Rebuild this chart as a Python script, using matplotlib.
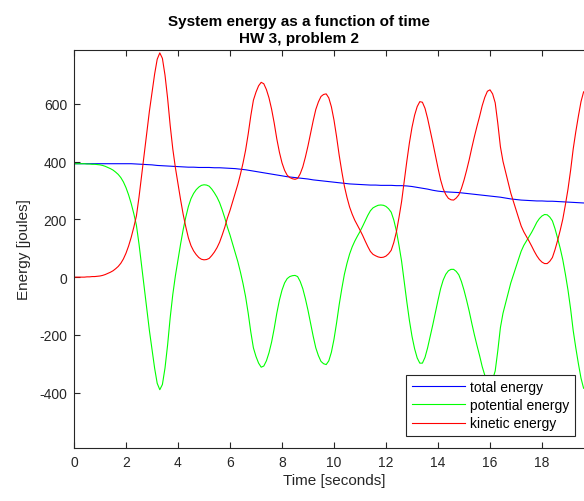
import matplotlib
matplotlib.use("Agg")
import matplotlib.pyplot as plt

plt.rcParams["font.family"] = ["Liberation Sans", "DejaVu Sans"]
plt.rcParams["axes.unicode_minus"] = False

# total energy, sampled every 0.2 s
time_total = [round(0.2 * i, 1) for i in range(99)]
total_energy = [
    393, 393, 393, 393, 393, 393, 393, 393, 393, 393,
    393, 393, 392, 391, 390, 389, 387, 386, 385, 384,
    383, 382, 381, 381, 380, 380, 380, 379, 379, 378,
    377, 376, 374, 372, 369, 366, 363, 360, 357, 354,
    351, 348, 346, 344, 342, 340, 337, 335, 333, 331,
    329, 327, 325, 323, 322, 321, 320, 319, 319, 318,
    318, 318, 317, 317, 316, 314, 311, 308, 305, 301,
    298, 296, 295, 294, 293, 291, 289, 287, 285, 283,
    281, 279, 277, 274, 271, 269, 267, 266, 265, 264,
    264, 263, 263, 262, 261, 260, 259, 258, 257,
]

# potential / kinetic energy, sampled every 0.1 s
time = [round(0.1 * i, 1) for i in range(197)]
potential_energy = [
    393, 393, 393, 393, 393, 392, 392, 391, 391, 390,
    389, 387, 384, 380, 376, 371, 364, 356, 345, 330,
    310, 285, 255, 220, 180, 115, 40, -35, -110, -185,
    -250, -315, -368, -390, -372, -315, -235, -140, -60, 5,
    60, 115, 165, 208, 245, 272, 290, 303, 312, 318,
    320, 319, 315, 305, 292, 277, 258, 233, 205, 173,
    146, 115, 85, 54, 18, -22, -68, -125, -190, -245,
    -275, -298, -312, -308, -290, -262, -225, -178, -125, -80,
    -45, -20, -5, 2, 5, 6, 2, -15, -40, -75,
    -115, -160, -205, -245, -272, -292, -300, -303, -290, -260,
    -215, -158, -95, -40, 10, 48, 80, 105, 125, 142,
    158, 176, 195, 214, 230, 240, 245, 249, 250, 249,
    245, 237, 225, 198, 160, 110, 55, -15, -85, -150,
    -205, -248, -280, -298, -298, -278, -245, -205, -165, -122,
    -80, -40, -10, 10, 22, 27, 27, 20, 8, -15,
    -45, -80, -118, -160, -200, -237, -272, -310, -340, -362,
    -368, -355, -325, -255, -175, -125, -90, -55, -20, 8,
    35, 63, 90, 110, 125, 140, 155, 172, 190, 203,
    212, 217, 216, 208, 195, 168, 135, 100, 60, 10,
    -45, -110, -185, -245, -300, -350, -385,
]
kinetic_energy = [
    0, 0, 0, 0, 0, 1, 1, 2, 2, 3,
    4, 6, 9, 13, 17, 22, 29, 37, 48, 63,
    83, 108, 138, 173, 212, 277, 351, 426, 500, 575,
    639, 703, 755, 777, 758, 700, 620, 525, 444, 379,
    323, 268, 217, 174, 136, 109, 91, 78, 68, 62,
    60, 61, 65, 75, 87, 102, 121, 146, 173, 205,
    231, 261, 291, 321, 356, 395, 440, 496, 559, 613,
    641, 663, 675, 670, 650, 621, 582, 534, 479, 433,
    396, 370, 353, 345, 341, 339, 342, 358, 382, 416,
    455, 499, 542, 581, 607, 626, 633, 635, 621, 590,
    544, 486, 422, 366, 315, 276, 243, 218, 197, 180,
    163, 145, 125, 106, 89, 79, 74, 70, 68, 69,
    73, 81, 93, 120, 157, 207, 262, 332, 401, 465,
    519, 561, 591, 608, 606, 585, 550, 508, 466, 422,
    378, 337, 306, 286, 273, 268, 267, 274, 285, 307,
    336, 370, 407, 448, 487, 523, 557, 594, 623, 644,
    649, 635, 604, 533, 452, 401, 364, 328, 291, 262,
    234, 205, 177, 157, 141, 125, 108, 90, 74, 61,
    52, 47, 47, 55, 68, 95, 127, 162, 201, 251,
    305, 370, 444, 504, 558, 608, 642,
]

fig = plt.figure(figsize=(5.84, 5.02), dpi=100)
ax = fig.add_axes([74 / 584, 53 / 502, 520 / 584, 398 / 502])

ax.plot(time_total, total_energy, color=(0, 0, 1), lw=0.8, label="total energy")
ax.plot(time, potential_energy, color=(0, 1, 0), lw=0.8, label="potential energy")
ax.plot(time, kinetic_energy, color=(1, 0, 0), lw=0.8, label="kinetic energy")

ax.set_xlim(0, 20)
ax.set_ylim(-592, 787)
ax.set_xticks(range(0, 20, 2))
ax.set_yticks([-400, -200, 0, 200, 400, 600])

gray = (0.15, 0.15, 0.15)
for s in ax.spines.values():
    s.set_color(gray)
    s.set_linewidth(0.8)
ax.tick_params(direction="in", top=True, right=False, length=4, width=0.8,
               colors=gray, labelsize=10, pad=5)

ax.set_xlabel("Time [seconds]", fontsize=11, color=gray, labelpad=3)
ax.set_ylabel("Energy [joules]", fontsize=11, color=gray, labelpad=6)
ax.set_title("System energy as a function of time\nHW 3, problem 2",
             fontsize=11, fontweight="bold", x=(299 - 74) / 520, pad=6,
             linespacing=1.25)

leg = ax.legend(loc="lower right", bbox_to_anchor=((575 - 74) / 520, (449 - 437) / 398),
                fontsize=10, frameon=True, fancybox=False, framealpha=1,
                edgecolor=gray, borderpad=0.4, labelspacing=0.3,
                handlelength=3.8, handletextpad=0.4, borderaxespad=0)
leg.get_frame().set_linewidth(0.8)

fig.savefig("out.png", dpi=100)
